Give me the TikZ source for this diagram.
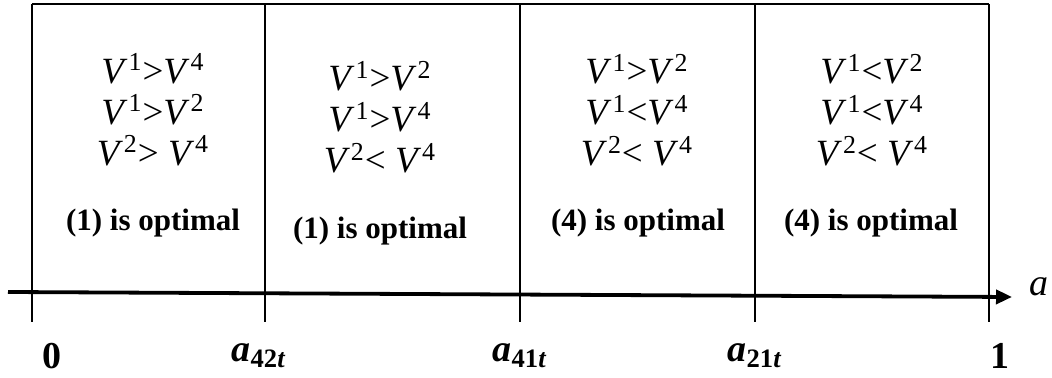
\documentclass[tikz,border=0pt]{standalone}
\usepackage{fontspec}
\setmainfont{Liberation Serif}
\usetikzlibrary{arrows.meta}

\newcommand\Vp[1]{\textit{V}\kern0.5pt\textsuperscript{#1}}
\newcommand\cut[2]{\textbf{\textit{#1}}\textsubscript{\textbf{#2}\textbf{\textit{t}}}}

\begin{document}
\begin{tikzpicture}[
x=0.5pt, y=-0.5pt,
grid/.style={line width=1.4pt},
axis/.style={line width=1.9pt, -{Triangle[length=8pt, width=7pt]}},
cond/.style={align=center, font=\fontsize{18.5}{20.5}\selectfont, inner sep=0pt},
verdict/.style={font=\fontsize{15.5}{18}\selectfont\bfseries, inner sep=0pt},
tick/.style={font=\fontsize{19}{22}\selectfont\bfseries, inner sep=0pt}
]
\useasboundingbox (0,0) rectangle (1052,378);

% region borders
\foreach \x/\n in {32/b0, 265/b1, 520/b2, 755/b3, 989/b4} {
  \coordinate (\n top) at (\x,4);
  \coordinate (\n bot) at (\x,322);
  \draw[grid] (\n top) -- (\n bot);
}
\draw[grid] (b0top) -- (b4top);

% axis
\coordinate (axstart) at (8,292);
\coordinate (axend) at (1012,297);
\draw[axis] (axstart) -- (axend);
\node[font=\fontsize{19}{22}\selectfont\itshape, inner sep=0pt] (alabel) at (1039,287) {a};

% regions
\node[cond] (c1) at (153,110) {\Vp{1}>\Vp{4}\\ \Vp{1}>\Vp{2}\\ \Vp{2}> \Vp{4}};
\node[cond] (c2) at (380,117) {\Vp{1}>\Vp{2}\\ \Vp{1}>\Vp{4}\\ \Vp{2}< \Vp{4}};
\node[cond] (c3) at (637,110) {\Vp{1}>\Vp{2}\\ \Vp{1}<\Vp{4}\\ \Vp{2}< \Vp{4}};
\node[cond] (c4) at (872,110) {\Vp{1}<\Vp{2}\\ \Vp{1}<\Vp{4}\\ \Vp{2}< \Vp{4}};

\node[verdict] (o1) at (153,223) {(1) is optimal};
\node[verdict] (o2) at (380,231) {(1) is optimal};
\node[verdict] (o3) at (638,223) {(4) is optimal};
\node[verdict] (o4) at (871,223) {(4) is optimal};

% ticks
\node[tick] (t0) at (52,356) {0};
\node[tick] (t1) at (259,356) {\cut{a}{42}};
\node[tick] (t2) at (520,356) {\cut{a}{41}};
\node[tick] (t3) at (755,356) {\cut{a}{21}};
\node[tick] (t4) at (1000,356) {1};
\end{tikzpicture}
\end{document}
